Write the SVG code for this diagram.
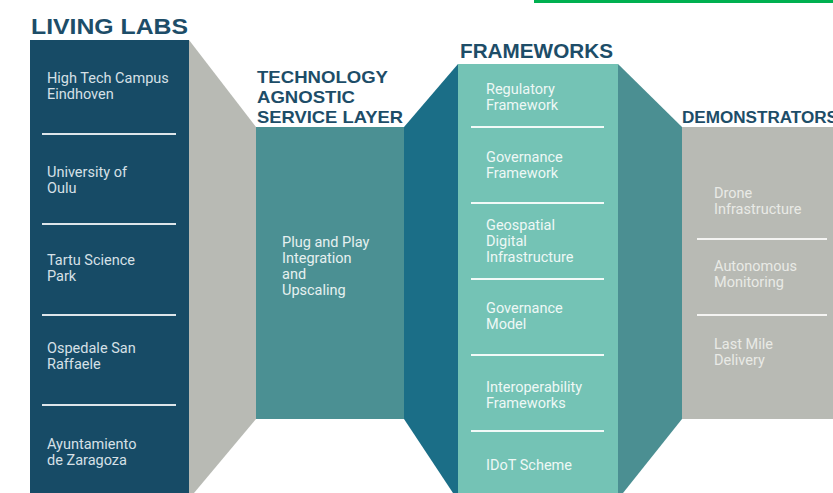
<svg xmlns="http://www.w3.org/2000/svg" width="833" height="493" viewBox="0 0 833 493">
  <style>
    .title { font-family: "Liberation Sans", Arial, sans-serif; font-weight: 700; fill: #1D4D68; }
    .item { font-family: "Roboto", "Liberation Sans", sans-serif; font-size: 14.5px; }
    .lab { fill: #D6E0E6; }
    .svc { fill: #E6F0F0; }
    .fw { fill: #EEF8F5; }
    .demo { fill: #E9EAE6; }
    .sep { stroke-width: 2; }
    .sep-lab { stroke: #DDE5EA; }
    .sep-fw { stroke: #F2FAF8; }
    .sep-demo { stroke: #F4F4F2; }
  </style>

  <rect width="833" height="493" fill="#FFFFFF"/>
  <!-- accent bar -->
  <rect x="534" y="0" width="299" height="3" fill="#00B050"/>

  <!-- bridging bands between columns -->
  <g id="connectors">
    <polygon points="189,40 256,127 256,419 194,493 189,493" fill="#B8BAB4"/>
    <polygon points="404,127 458,64 458,493 453,493 404,419" fill="#1B6E87"/>
    <polygon points="618,64 682,127 682,419 623,493 618,493" fill="#4B8F92"/>
  </g>

  <g id="living-labs">
    <text class="title" x="31" y="34" font-size="22.5" textLength="157" lengthAdjust="spacingAndGlyphs">LIVING LABS</text>
    <rect x="30" y="40" width="159" height="453" fill="#174B66"/>
    <text class="item lab" x="47" y="83">High Tech Campus</text>
    <text class="item lab" x="47" y="99">Eindhoven</text>
    <line class="sep sep-lab" x1="42" y1="134" x2="176" y2="134"/>
    <text class="item lab" x="47" y="177">University of</text>
    <text class="item lab" x="47" y="193">Oulu</text>
    <line class="sep sep-lab" x1="42" y1="224" x2="176" y2="224"/>
    <text class="item lab" x="47" y="265">Tartu Science</text>
    <text class="item lab" x="47" y="281">Park</text>
    <line class="sep sep-lab" x1="42" y1="315" x2="176" y2="315"/>
    <text class="item lab" x="47" y="353">Ospedale San</text>
    <text class="item lab" x="47" y="369">Raffaele</text>
    <line class="sep sep-lab" x1="42" y1="405" x2="176" y2="405"/>
    <text class="item lab" x="47" y="449">Ayuntamiento</text>
    <text class="item lab" x="47" y="465">de Zaragoza</text>
  </g>

  <g id="service-layer">
    <text class="title" x="257" y="83" font-size="17" textLength="131" lengthAdjust="spacingAndGlyphs">TECHNOLOGY</text>
    <text class="title" x="257" y="103" font-size="17" textLength="98" lengthAdjust="spacingAndGlyphs">AGNOSTIC</text>
    <text class="title" x="257" y="123" font-size="17" textLength="146" lengthAdjust="spacingAndGlyphs">SERVICE LAYER</text>
    <rect x="256" y="127" width="148" height="292" fill="#4B9093"/>
    <text class="item svc" x="282" y="247">Plug and Play</text>
    <text class="item svc" x="282" y="263">Integration</text>
    <text class="item svc" x="282" y="279">and</text>
    <text class="item svc" x="282" y="295">Upscaling</text>
  </g>

  <g id="frameworks">
    <text class="title" x="460" y="58" font-size="19.5" textLength="153" lengthAdjust="spacingAndGlyphs">FRAMEWORKS</text>
    <rect x="458" y="64" width="160" height="429" fill="#74C3B5"/>
    <text class="item fw" x="486" y="94">Regulatory</text>
    <text class="item fw" x="486" y="110">Framework</text>
    <line class="sep sep-fw" x1="471" y1="127" x2="604" y2="127"/>
    <text class="item fw" x="486" y="162">Governance</text>
    <text class="item fw" x="486" y="178">Framework</text>
    <line class="sep sep-fw" x1="471" y1="203" x2="604" y2="203"/>
    <text class="item fw" x="486" y="230">Geospatial</text>
    <text class="item fw" x="486" y="246">Digital</text>
    <text class="item fw" x="486" y="262">Infrastructure</text>
    <line class="sep sep-fw" x1="471" y1="279" x2="604" y2="279"/>
    <text class="item fw" x="486" y="313">Governance</text>
    <text class="item fw" x="486" y="329">Model</text>
    <line class="sep sep-fw" x1="471" y1="355" x2="604" y2="355"/>
    <text class="item fw" x="486" y="392">Interoperability</text>
    <text class="item fw" x="486" y="408">Frameworks</text>
    <line class="sep sep-fw" x1="471" y1="431" x2="604" y2="431"/>
    <text class="item fw" x="486" y="470">IDoT Scheme</text>
  </g>

  <g id="demonstrators">
    <text class="title" x="682" y="123" font-size="16" textLength="156" lengthAdjust="spacingAndGlyphs">DEMONSTRATORS</text>
    <rect x="682" y="127" width="151" height="292" fill="#B8BAB4"/>
    <text class="item demo" x="714" y="198">Drone</text>
    <text class="item demo" x="714" y="214">Infrastructure</text>
    <line class="sep sep-demo" x1="697" y1="239" x2="827" y2="239"/>
    <text class="item demo" x="714" y="271">Autonomous</text>
    <text class="item demo" x="714" y="287">Monitoring</text>
    <line class="sep sep-demo" x1="697" y1="315" x2="827" y2="315"/>
    <text class="item demo" x="714" y="349">Last Mile</text>
    <text class="item demo" x="714" y="365">Delivery</text>
  </g>
</svg>
